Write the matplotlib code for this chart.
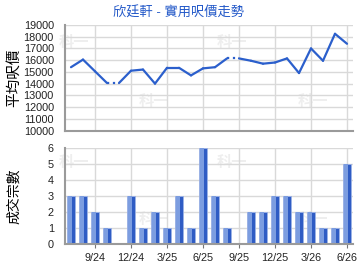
import matplotlib
matplotlib.use("Agg")
from matplotlib import pyplot as plt
import numpy as np

plt.rcParams['font.family'] = ['Liberation Sans', 'Noto Sans CJK TC']

# monthly slots Jul 2024 .. Jun 2026
months = ['7/24', '8/24', '9/24', '10/24', '11/24', '12/24', '1/25', '2/25', '3/25',
          '4/25', '5/25', '6/25', '7/25', '8/25', '9/25', '10/25', '11/25', '12/25',
          '1/26', '2/26', '3/26', '4/26', '5/26', '6/26']
avg_price = [15400, 16050, 15050, 14050, 14050, 15100, 15200, 14000, 15350, 15350,
             14700, 15300, 15400, 16150, 16150, 15950, 15700, 15800, 16150, 14900,
             17000, 15950, 18250, 17400]
deals = [3, 3, 2, 1, 0, 3, 1, 2, 1, 3, 1, 6, 3, 1, 0, 2, 2, 3, 3, 2, 2, 1, 1, 5]
tick_labels = ['9/24', '12/24', '3/25', '6/25', '9/25', '12/25', '3/26', '6/26']

title = '欣廷軒 - 實用呎價走勢'
line_c = '#2b5fcc'
grid_c = '#d9d9d9'

W, H = 360, 270
fig = plt.figure(figsize=(W / 100, H / 100), dpi=100)
fig.patch.set_facecolor('white')

def px_axes(left, top, right, bottom):
    return fig.add_axes([left / W, 1 - bottom / H, (right - left) / W, (bottom - top) / H])

x = np.arange(len(months))
tick_pos = [months.index(t) for t in tick_labels]

def style(ax):
    ax.set_xlim(-0.5, len(months) - 0.5)
    ax.set_xticks(tick_pos)
    ax.grid(True, color=grid_c, lw=1.0)
    ax.set_axisbelow(True)
    for s in ['top', 'right']:
        ax.spines[s].set_visible(False)
    for s in ['left', 'bottom']:
        ax.spines[s].set_color('#9a9a9a')
        ax.spines[s].set_linewidth(1.5)
    ax.tick_params(axis='y', length=0, pad=8, labelsize=7.8, colors='#222222')
    ax.tick_params(axis='x', length=3, color='#777777', labelsize=7.8, colors='#222222')

def watermark(ax, spots):
    for xf, yf in spots:
        ax.text(xf, yf, '科一', transform=ax.transAxes, fontsize=11, fontweight='bold',
                color='#eeeeee', ha='center', va='center', zorder=0)

# top: average price per sq ft
ax1 = px_axes(65, 25, 353, 130.5)
style(ax1)
ax1.set_ylim(10000, 19000)
ax1.set_yticks(np.arange(10000, 19001, 1000))
ax1.tick_params(axis='x', length=0, labelbottom=False)
watermark(ax1, [(0.03, 0.83), (0.58, 0.83), (0.31, 0.27), (0.86, 0.27)])

gaps = [i for i, d in enumerate(deals) if d == 0]
for i in range(len(x) - 1):
    ls = ':' if (i + 1) in gaps else '-'
    ax1.plot(x[i:i + 2], avg_price[i:i + 2], color=line_c, lw=1.6, ls=ls,
             solid_capstyle='round', solid_joinstyle='round', zorder=3)
ax1.set_ylabel('平均呎價', fontsize=10.5, va='center')
ax1.yaxis.set_label_coords(-51 / 288, 0.5)
fig.text(0.497, 1 - 13 / H, title, color='#2258c8', fontsize=9.5, ha='center', va='center')

# bottom: number of deals
ax2 = px_axes(65, 148, 353, 243.5)
style(ax2)
ax2.set_ylim(0, 6)
ax2.set_yticks(range(0, 7))
ax2.set_xticklabels(tick_labels)
watermark(ax2, [(0.03, 0.84), (0.58, 0.84), (0.31, 0.25), (0.86, 0.25)])
ax2.bar(x, deals, width=0.72, color='#2f5cc4', edgecolor='#9db3e6', lw=0.6, zorder=2)
ax2.bar(x - 0.08, deals, width=0.3, color='#7c9de0', lw=0, zorder=2.5)
ax2.set_ylabel('成交宗數', fontsize=10, va='center')
ax2.yaxis.set_label_coords(-51 / 288, 0.5)

fig.savefig('out.png', dpi=100)
